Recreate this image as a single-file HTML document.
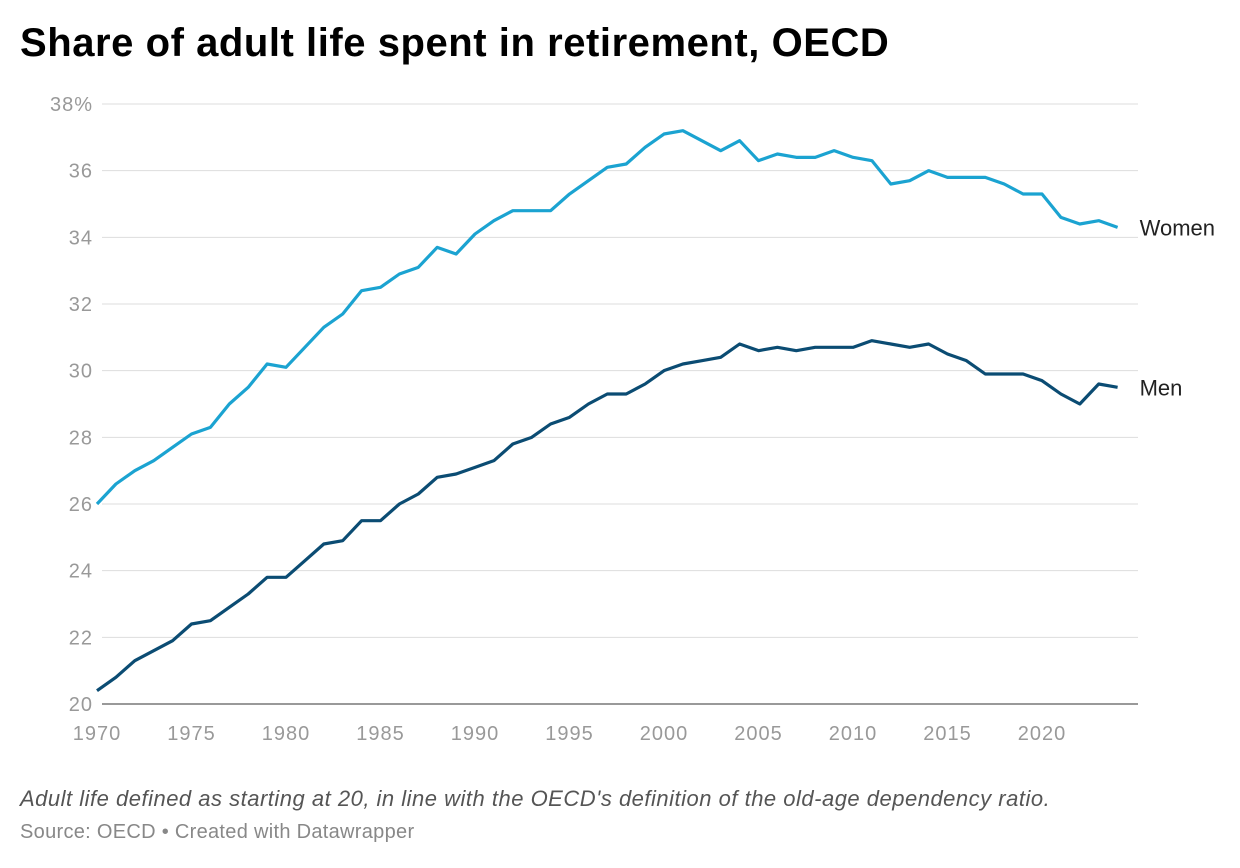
<!DOCTYPE html>
<html><head><meta charset="utf-8"><style>
body{margin:0;background:#fff;font-family:"Liberation Sans",sans-serif;}
#wrap{position:relative;width:1240px;height:868px;}
h1{position:absolute;left:20px;top:21px;margin:0;font-size:40px;font-weight:bold;color:#000;letter-spacing:0.55px}
.note{position:absolute;left:20px;top:786px;font-size:22px;font-style:italic;color:#555;letter-spacing:0.5px}
.src{position:absolute;left:20px;top:821px;font-size:20px;color:#888;letter-spacing:0.3px}
</style></head><body>
<div id="wrap">
<h1>Share of adult life spent in retirement, OECD</h1>
<svg id="chart" width="1240" height="868" style="position:absolute;left:0;top:0"></svg>
<div class="note">Adult life defined as starting at 20, in line with the OECD's definition of the old-age dependency ratio.</div>
<div class="src">Source: OECD • Created with Datawrapper</div>
</div>
<script>
const years=[1970,1971,1972,1973,1974,1975,1976,1977,1978,1979,1980,1981,1982,1983,1984,1985,1986,1987,1988,1989,1990,1991,1992,1993,1994,1995,1996,1997,1998,1999,2000,2001,2002,2003,2004,2005,2006,2007,2008,2009,2010,2011,2012,2013,2014,2015,2016,2017,2018,2019,2020,2021,2022,2023,2024];
const women=[26.0,26.6,27.0,27.3,27.7,28.1,28.3,29.0,29.5,30.2,30.1,30.7,31.3,31.7,32.4,32.5,32.9,33.1,33.7,33.5,34.1,34.5,34.8,34.8,34.8,35.3,35.7,36.1,36.2,36.7,37.1,37.2,36.9,36.6,36.9,36.3,36.5,36.4,36.4,36.6,36.4,36.3,35.6,35.7,36.0,35.8,35.8,35.8,35.6,35.3,35.3,34.6,34.4,34.5,34.3];
const men=[20.4,20.8,21.3,21.6,21.9,22.4,22.5,22.9,23.3,23.8,23.8,24.3,24.8,24.9,25.5,25.5,26.0,26.3,26.8,26.9,27.1,27.3,27.8,28.0,28.4,28.6,29.0,29.3,29.3,29.6,30.0,30.2,30.3,30.4,30.8,30.6,30.7,30.6,30.7,30.7,30.7,30.9,30.8,30.7,30.8,30.5,30.3,29.9,29.9,29.9,29.7,29.3,29.0,29.6,29.5];
const yTicks=[20,22,24,26,28,30,32,34,36,38];
const xTicks=[1970,1975,1980,1985,1990,1995,2000,2005,2010,2015,2020];
const NS="http://www.w3.org/2000/svg";
const svg=document.getElementById('chart');
const x=v=>97+(v-1970)*18.9;
const y=v=>704-(v-20)*33.333;
function mk(t,a){const e=document.createElementNS(NS,t);for(const k in a)e.setAttribute(k,a[k]);svg.appendChild(e);return e;}
yTicks.forEach(t=>{
 const l=mk('line',{x1:102,x2:1138,y1:y(t),y2:y(t),stroke:t===20?'#333':'#ddd','stroke-width':1});
 
 
 const tx=mk('text',{x:93,y:y(t)+7,'text-anchor':'end','font-size':20,'letter-spacing':1,fill:'#999','font-family':'Liberation Sans, sans-serif'});
 tx.textContent=t===38?'38%':t;
 
 
});
xTicks.forEach(t=>{
 const tx=mk('text',{x:x(t),y:740,'text-anchor':'middle','font-size':20,'letter-spacing':1,fill:'#999','font-family':'Liberation Sans, sans-serif'});
 tx.textContent=t;
 
 
});
function line(vals,color,name,label){
 const p=mk('polyline',{points:years.map((yr,i)=>x(yr)+','+y(vals[i])).join(' '),fill:'none',stroke:color,'stroke-width':3.2,'stroke-linejoin':'round'});
 
 
 const t=mk('text',{x:x(years[years.length-1])+22,y:y(vals[vals.length-1])+8,'font-size':22,fill:'#222','font-family':'Liberation Sans, sans-serif'});
 t.textContent=label;
 
 
}
line(women,'#1ba3d1','women-line','Women');
line(men,'#0b4c73','men-line','Men');
</script>
</body></html>
